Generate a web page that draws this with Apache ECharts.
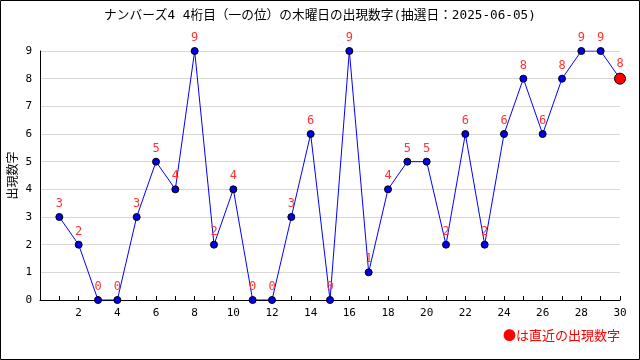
<!DOCTYPE html>
<html><head><meta charset="utf-8">
<script src="https://cdn.jsdelivr.net/npm/echarts@6/dist/echarts.min.js"></script>
<style>html,body{margin:0;padding:0;background:#fff}#c{width:640px;height:360px}</style>
</head><body><div id="c"></div>
<script>
const titleText = 'ナンバーズ4 4桁目（一の位）の木曜日の出現数字(抽選日：2025-06-05)';
const yName = '出現数字';
const legendText = '●は直近の出現数字';
const xs = [1,2,3,4,5,6,7,8,9,10,11,12,13,14,15,16,17,18,19,20,21,22,23,24,25,26,27,28,29,30];
const values = [3,2,0,0,3,5,4,9,2,4,0,0,3,6,0,9,1,4,5,5,2,6,2,6,8,6,8,9,9,8];

const font = '"DejaVu Sans Mono", "Noto Sans CJK JP", monospace';
const cjk = '"Noto Sans CJK JP", sans-serif';
const data = xs.map((x,i)=>{
  const last = i === xs.length-1;
  return last ? {value:[x,values[i]], symbolSize:11, itemStyle:{color:'#ff0000',borderColor:'#000',borderWidth:1}} : [x,values[i]];
});
const chart = echarts.init(document.getElementById('c'));
chart.setOption({
  animation:false,
  title:{text:titleText,left:'center',top:4,textStyle:{fontFamily:font,fontSize:12.7,fontWeight:'normal',color:'#000'}},
  grid:{left:40,right:20,top:51,bottom:60,containLabel:false,outerBoundsMode:'none'},
  xAxis:{type:'value',min:0,max:30,interval:1,
    axisLine:{lineStyle:{color:'#000'}},
    axisTick:{show:true,length:4,inside:true,lineStyle:{color:'#000'}},
    axisLabel:{fontFamily:font,fontSize:11,color:'#000',margin:8,
      formatter:v=> (v>0 && v%2===0) ? String(v) : ''},
    splitLine:{show:false}},
  yAxis:{type:'value',min:0,max:9,interval:1,name:yName,nameLocation:'middle',nameGap:22,nameRotate:90,
    nameMoveOverlap:false,
    nameTextStyle:{fontFamily:cjk,fontSize:12,color:'#000'},
    axisLine:{show:true,lineStyle:{color:'#000'}},
    axisTick:{show:false},
    axisLabel:{fontFamily:font,fontSize:11,color:'#000',margin:8},
    splitLine:{lineStyle:{color:'#d8d8d8'}}},
  series:[{type:'line',data:data,symbol:'circle',symbolSize:7,
    lineStyle:{color:'#0000ff',width:1},
    itemStyle:{color:'#0000ee',borderColor:'#000',borderWidth:1},
    label:{show:true,position:'top',distance:3,color:'#ff3333',fontFamily:font,fontSize:12,
      formatter:p=>String(p.value[1])}}],
  graphic:[
    {type:'rect',shape:{x:0.5,y:0.5,width:639,height:359},style:{fill:'none',stroke:'#000',lineWidth:1}},
    {type:'text',right:20,top:329,style:{text:legendText,fill:'#ff0000',font:'13px '+cjk}}
  ]
});
</script></body></html>
